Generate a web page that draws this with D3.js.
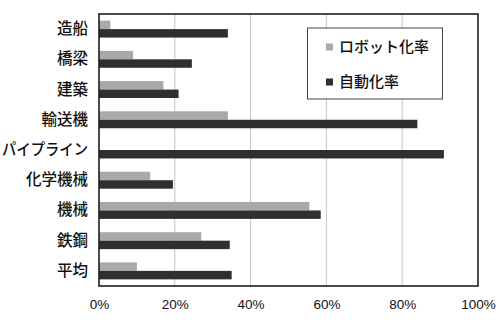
<!DOCTYPE html>
<html><head><meta charset="utf-8">
<script src="https://cdn.jsdelivr.net/npm/d3@7"></script>
<style>
html,body{margin:0;padding:0;background:#fff;}
svg{display:block;}
</style></head>
<body>
<svg id="c" width="502" height="326"></svg>
<script>
const categories = ["造船","橋梁","建築","輸送機","パイプライン","化学機械","機械","鉄鋼","平均"];
const robotRate = [3, 9, 17, 34, 0, 13.5, 55.5, 27, 10];
const autoRate  = [34, 24.5, 21, 84, 91, 19.5, 58.5, 34.5, 35];
const seriesNames = ["ロボット化率","自動化率"];
const xTicks = [0, 20, 40, 60, 80, 100];

const svg = d3.select("#c");
const M = {l: 99, r: 478, t: 14, b: 286};
const x = d3.scaleLinear().domain([0, 100]).range([M.l, M.r]);
const y = d3.scaleBand().domain(categories).range([M.t, M.b]).paddingInner(0.44).paddingOuter(0.22);
const inner = d3.scaleBand().domain(seriesNames).range([0, y.bandwidth()]).padding(0);
const colors = {"ロボット化率": "#a9a9a9", "自動化率": "#2f2f2f"};

// gridlines
svg.append("g").selectAll("line").data(xTicks.slice(1, -1)).join("line")
  .attr("x1", d => x(d)).attr("x2", d => x(d))
  .attr("y1", M.t).attr("y2", M.b)
  .attr("stroke", "#c4c4c4").attr("stroke-width", 1);

// bars
const rows = categories.map((c, i) => ({c, vals: [robotRate[i], autoRate[i]]}));
const g = svg.append("g");
rows.forEach(r => {
  seriesNames.forEach((s, j) => {
    if (r.vals[j] <= 0) return;
    g.append("rect")
      .attr("x", x(0))
      .attr("y", y(r.c) + inner(s))
      .attr("width", x(r.vals[j]) - x(0))
      .attr("height", inner.bandwidth())
      .attr("fill", colors[s]);
  });
});

// frame
svg.append("rect").attr("x", M.l).attr("y", M.t).attr("width", M.r - M.l).attr("height", M.b - M.t)
  .attr("fill", "none").attr("stroke", "#1e1e1e").attr("stroke-width", 1.6);

// x axis labels
const xa = svg.append("g").attr("transform", `translate(0,${M.b})`)
  .call(d3.axisBottom(x).tickValues(xTicks).tickFormat(d => d + "%").tickSize(0).tickPadding(13));
xa.select(".domain").remove();
xa.selectAll("text").attr("font-family", "'Liberation Sans', Arial, sans-serif").attr("font-size", 13.5).attr("fill", "#111");

// y axis labels
const ya = svg.append("g").attr("transform", `translate(${M.l},0)`)
  .call(d3.axisLeft(y).tickSize(0).tickPadding(11));
ya.select(".domain").remove();
ya.selectAll("text").attr("font-family", "'Noto Sans CJK JP', sans-serif").attr("font-size", 15.5)
  .attr("font-weight", 500).attr("fill", "#111")
  .each(function(d) {
    if (d.length > 5) d3.select(this).attr("textLength", 86).attr("lengthAdjust", "spacingAndGlyphs");
  });

// legend
const lg = svg.append("g");
lg.append("rect").attr("x", 307.5).attr("y", 28).attr("width", 135).attr("height", 71)
  .attr("fill", "#fff").attr("stroke", "#444").attr("stroke-width", 1);
seriesNames.forEach((s, i) => {
  const yy = 47 + i * 35;
  lg.append("rect").attr("x", 326).attr("y", yy - 3.5).attr("width", 7).attr("height", 7).attr("fill", colors[s]);
  lg.append("text").attr("x", 339).attr("y", yy).attr("dy", "0.36em")
    .attr("font-family", "'Noto Sans CJK JP', sans-serif").attr("font-size", 15).attr("font-weight", 500)
    .attr("fill", "#111").text(s);
});
</script>
</body></html>
